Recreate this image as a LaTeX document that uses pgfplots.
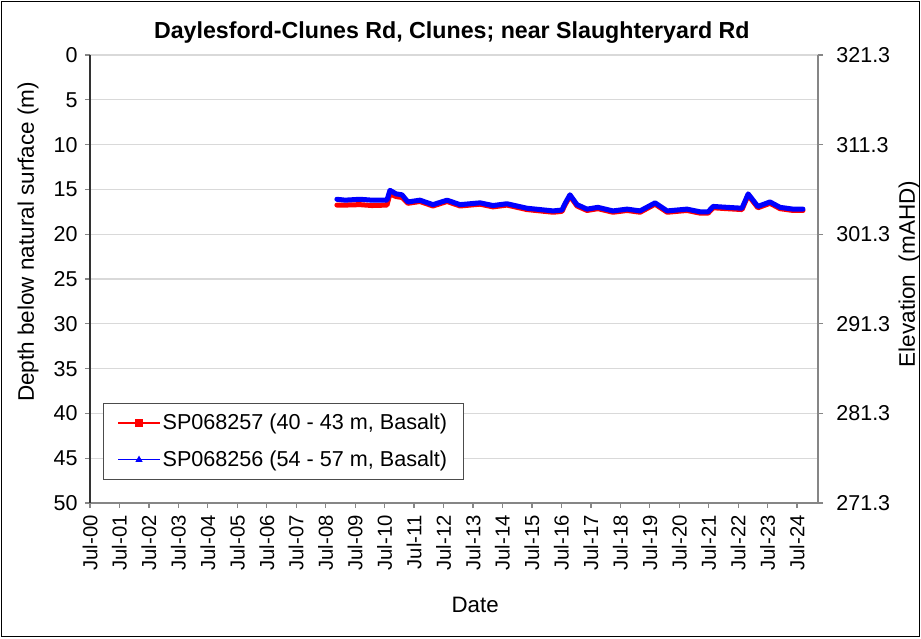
\documentclass[border=0pt]{standalone}
\usepackage{pgfplots}
\pgfplotsset{compat=1.18}
\usepackage{fontspec}
\setmainfont{Liberation Sans}
\definecolor{gridgray}{RGB}{217,217,217}
\definecolor{axgray}{RGB}{134,134,134}

\pgfplotstableread{
t d
8.38 16.1
8.66 16.2
9.16 16.1
9.57 16.2
10.08 16.2
10.18 15.1
10.39 15.5
10.59 15.6
10.79 16.4
11.20 16.2
11.64 16.7
12.12 16.2
12.56 16.7
13.24 16.5
13.68 16.8
14.15 16.6
14.83 17.1
15.72 17.4
16.02 17.3
16.12 16.6
16.29 15.6
16.53 16.7
16.87 17.2
17.24 17.0
17.75 17.4
18.23 17.2
18.67 17.4
19.18 16.5
19.59 17.4
20.26 17.2
20.71 17.5
20.98 17.5
21.15 16.9
21.62 17.0
22.13 17.1
22.34 15.5
22.67 16.9
23.08 16.4
23.42 17.0
23.86 17.2
24.20 17.2
}\blue

\pgfplotstableread{
t d
8.38 16.75
8.66 16.75
9.16 16.7
9.57 16.8
10.08 16.75
10.18 15.5
10.39 15.8
10.59 15.9
10.79 16.55
11.20 16.35
11.64 16.85
12.12 16.35
12.56 16.85
13.24 16.65
13.68 16.95
14.15 16.75
14.83 17.25
15.72 17.55
16.02 17.45
16.12 16.75
16.29 15.75
16.53 16.85
16.87 17.35
17.24 17.15
17.75 17.55
18.23 17.35
18.67 17.55
19.18 16.65
19.59 17.55
20.26 17.35
20.71 17.65
20.98 17.65
21.15 17.05
21.62 17.15
22.13 17.25
22.34 15.65
22.67 17.05
23.08 16.55
23.42 17.15
23.86 17.35
24.20 17.35
}\red

\begin{document}
\fontsize{21.5}{25}\selectfont
\begin{tikzpicture}[x=1pt,y=1pt]
\useasboundingbox (0,0) rectangle (921,638);
\draw[black, line width=1.2pt] (1.5,1.5) rectangle (919.5,636.5);
\begin{axis}[
  at={(90pt,135pt)}, anchor=south west,
  scale only axis, width=728pt, height=448pt,
  xmin=0, xmax=24.71, ymin=0, ymax=50, y dir=reverse,
  axis x line*=bottom, axis y line*=left,
  x axis line style={axgray, line width=1.3pt, -},
  y axis line style={black!80, line width=1.3pt, -},
  xtick={0,...,24},
  xticklabels={Jul-00,Jul-01,Jul-02,Jul-03,Jul-04,Jul-05,Jul-06,Jul-07,Jul-08,Jul-09,Jul-10,Jul-11,Jul-12,Jul-13,Jul-14,Jul-15,Jul-16,Jul-17,Jul-18,Jul-19,Jul-20,Jul-21,Jul-22,Jul-23,Jul-24},
  xticklabel style={rotate=90, anchor=east, font=\fontsize{20.3}{24}\selectfont},
  ytick={0,5,...,50},
  yticklabel style={font=\fontsize{21.5}{25}\selectfont},
  /pgf/number format/assume math mode=true,
  tick align=outside, major tick length=5pt,
  every tick/.style={axgray, line width=1.3pt},
  ymajorgrids, major grid style={gridgray, line width=1.3pt},
  xlabel={Date}, xlabel style={at={(axis description cs:0.529,-0.228)}, anchor=center, font=\fontsize{22.3}{26}\selectfont},
  ylabel={Depth below natural surface (m)}, ylabel style={at={(axis description cs:-0.085,0.583)}, anchor=center, font=\fontsize{22.5}{26}\selectfont},
  every axis title shift=0pt,
  title={\bfseries Daylesford-Clunes Rd, Clunes; near Slaughteryard Rd},
  title style={at={(axis description cs:0.497,1.05)}, anchor=center, font=\fontsize{23.2}{27}\selectfont},
  legend style={at={(axis description cs:0.0179,0.223)}, anchor=north west, draw=black!70, line width=0.8pt, fill=white, font=\fontsize{21.6}{25}\selectfont, inner xsep=14pt, inner ysep=8pt, row sep=14pt},
  legend cell align=left,
  legend image code/.code={\draw[mark repeat=2,mark phase=2,#1] plot coordinates {(0pt,0pt) (21pt,0pt) (42pt,0pt)};},
]
\addplot[red, line width=5pt, line join=round, line cap=round, forget plot] table[x=t,y=d]{\red};
\addplot[blue, line width=5pt, line join=round, line cap=round, forget plot] table[x=t,y=d]{\blue};
\addlegendimage{red, line width=1.2pt, mark=square*, mark size=3pt}
\addlegendentry{SP068257 (40 - 43 m, Basalt)}
\addlegendimage{blue, line width=1.2pt, mark=triangle*, mark size=3pt}
\addlegendentry{SP068256 (54 - 57 m, Basalt)}
\end{axis}
\begin{axis}[
  at={(90pt,135pt)}, anchor=south west,
  scale only axis, width=728pt, height=448pt,
  xmin=0, xmax=24.71, ymin=271.3, ymax=321.3,
  axis y line*=right, axis x line=none,
  y axis line style={axgray, line width=1.3pt, -},
  ytick={271.3,281.3,291.3,301.3,311.3,321.3},
  /pgf/number format/fixed, /pgf/number format/fixed zerofill, /pgf/number format/precision=1,
  /pgf/number format/assume math mode=true,
  yticklabel style={font=\fontsize{21.5}{25}\selectfont, xshift=6pt},
  tick align=outside, major tick length=5pt,
  every tick/.style={axgray, line width=1.3pt},
]
\end{axis}
\node[rotate=90, anchor=center, inner sep=0pt, font=\fontsize{22.5}{26}\selectfont] at (909,364) {Elevation\ \ (mAHD)};
\end{tikzpicture}
\end{document}
